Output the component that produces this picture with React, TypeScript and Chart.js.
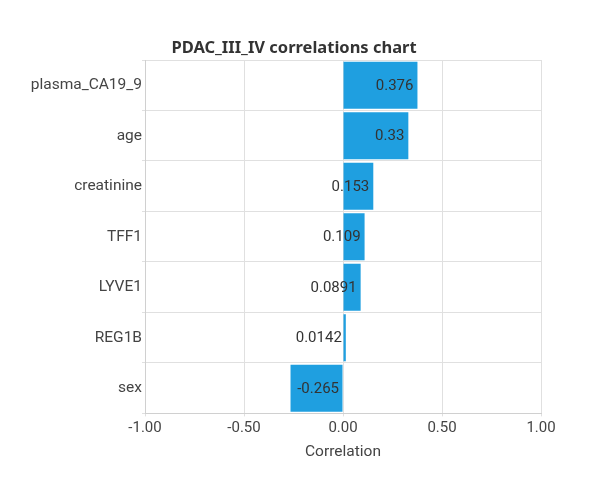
import React, { useEffect, useRef } from "react";
import { Chart, registerables } from "chart.js";

Chart.register(...registerables);

const categories = ["plasma_CA19_9", "age", "creatinine", "TFF1", "LYVE1", "REG1B", "sex"];
const correlations = [0.376, 0.33, 0.153, 0.109, 0.0891, 0.0142, -0.265];
const valueLabels = ["0.376", "0.33", "0.153", "0.109", "0.0891", "0.0142", "-0.265"];
const xTicks = [-1, -0.5, 0, 0.5, 1];
const chartTitle = "PDAC_III_IV correlations chart";

const FONT = "Roboto";

const valueLabelPlugin = {
  id: "valueLabels",
  afterDatasetsDraw(chart: any) {
    const ctx = chart.ctx;
    const xs = chart.scales.x;
    const meta = chart.getDatasetMeta(0);
    ctx.save();
    ctx.font = `15px ${FONT}`;
    ctx.fillStyle = "#333333";
    ctx.textAlign = "right";
    ctx.textBaseline = "middle";
    meta.data.forEach((bar: any, i: number) => {
      const v = correlations[i];
      const xEnd = Math.max(xs.getPixelForValue(v), xs.getPixelForValue(0));
      ctx.fillText(valueLabels[i], xEnd - 4, bar.y + 1);
    });
    ctx.restore();
  },
};

const titlePlugin = {
  id: "customTitle",
  afterDraw(chart: any) {
    const ctx = chart.ctx;
    const area = chart.chartArea;
    ctx.save();
    ctx.font = `bold 16.5px "Noto Sans"`;
    ctx.fillStyle = "#333333";
    ctx.textAlign = "center";
    ctx.textBaseline = "middle";
    ctx.fillText(chartTitle, (area.left + area.right) / 2 - 49, area.top - 12);
    ctx.restore();
  },
};

export default function App() {
  const ref = useRef<HTMLCanvasElement | null>(null);
  useEffect(() => {
    if (!ref.current) return;
    const chart = new Chart(ref.current, {
      type: "bar",
      data: {
        labels: categories,
        datasets: [
          {
            data: correlations,
            backgroundColor: "#1f9fe0",
            borderWidth: 0,
            barPercentage: 0.93,
            categoryPercentage: 1,
          },
        ],
      },
      options: {
        indexAxis: "y",
        animation: false,
        responsive: false,
        devicePixelRatio: 1,
        layout: { padding: { left: 25, right: 59, top: 60, bottom: 25 } },
        plugins: {
          legend: { display: false },
          tooltip: { enabled: false },
          title: { display: false },
        },
        scales: {
          x: {
            min: -1,
            max: 1,
            afterBuildTicks(scale: any) {
              scale.ticks = xTicks.map((v) => ({ value: v }));
            },
            ticks: {
              color: "#444444",
              font: { family: FONT, size: 15 },
              padding: 3,
              callback: (v: any) => Number(v).toFixed(2),
            },
            grid: { color: "#e0e0e0", tickLength: 3 },
            border: { color: "#d0d0d0" },
            title: {
              display: true,
              text: "Correlation",
              color: "#444444",
              font: { family: FONT, size: 15.5 },
              padding: { top: 2 },
            },
          },
          y: {
            afterFit(scale: any) {
              scale.width = 120;
            },
            ticks: {
              color: "#444444",
              font: { family: FONT, size: 15.5 },
              padding: 0,
            },
            grid: { color: "#e0e0e0", tickLength: 3, offset: true },
            border: { color: "#d0d0d0" },
          },
        },
      },
      plugins: [valueLabelPlugin, titlePlugin],
    });
    return () => chart.destroy();
  }, []);
  return (
    <div style={{ position: "fixed", left: 0, top: 0, width: 600, height: 490, background: "#fff" }}>
      <canvas ref={ref} width={600} height={490} style={{ width: 600, height: 490 }} />
    </div>
  );
}
